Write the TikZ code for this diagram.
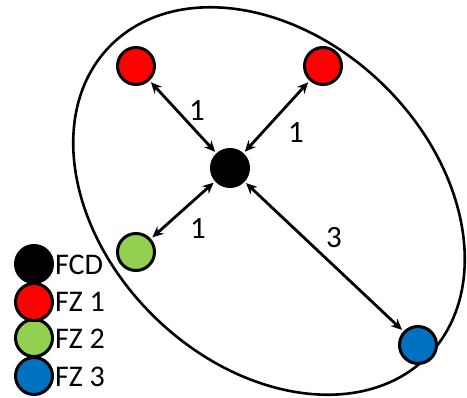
\documentclass[tikz,border=0pt]{standalone}
\usepackage{fontspec}
\setmainfont{Carlito}
\usetikzlibrary{arrows.meta}
\definecolor{fzred}{RGB}{255,0,0}
\definecolor{fzgreen}{RGB}{146,208,80}
\definecolor{fzblue}{RGB}{0,112,192}
\begin{document}
\begin{tikzpicture}[x=1pt,y=-1pt,
  dot/.style={circle,draw=black,line width=3pt,minimum size=37pt,inner sep=0pt},
  link/.style={line width=2.8pt,{Stealth[length=11pt,width=10pt]}-{Stealth[length=11pt,width=10pt]},shorten <=2pt,shorten >=2pt},
  lab/.style={font=\fontsize{31pt}{34pt}\selectfont,inner sep=0pt},
  leg/.style={font=\fontsize{30pt}{33pt}\selectfont,inner sep=0pt,anchor=west}]
\useasboundingbox (0,0) rectangle (467,398);
\draw[line width=2.6pt] (269,201) ellipse[x radius=222,y radius=163,rotate=-44];
\node[dot,fill=black] (fcd) at (230,168) {};
\node[dot,fill=fzred] (r1) at (136,66) {};
\node[dot,fill=fzred] (r2) at (323,66) {};
\node[dot,fill=fzgreen] (g) at (136,252) {};
\node[dot,fill=fzblue] (b) at (418,345) {};
\draw[link] (fcd) -- (r1);
\draw[link] (fcd) -- (r2);
\draw[link] (fcd) -- (g);
\draw[link] (fcd) -- (b);
\node[lab] (l1) at (197,111) {1};
\node[lab] (l2) at (296,133) {1};
\node[lab] (l3) at (198,229) {1};
\node[lab] (l4) at (334,238) {3};
\node[dot,fill=fzblue] (k4) at (34,376) {};
\node[dot,fill=fzgreen] (k3) at (34,338) {};
\node[dot,fill=fzred] (k2) at (34,302) {};
\node[dot,fill=black] (k1) at (34,264) {};
\node[leg] (t1) at (55,265) {FCD};
\node[leg] (t2) at (55,302) {FZ 1};
\node[leg] (t3) at (55,339) {FZ 2};
\node[leg] (t4) at (55,377) {FZ 3};
\end{tikzpicture}
\end{document}
